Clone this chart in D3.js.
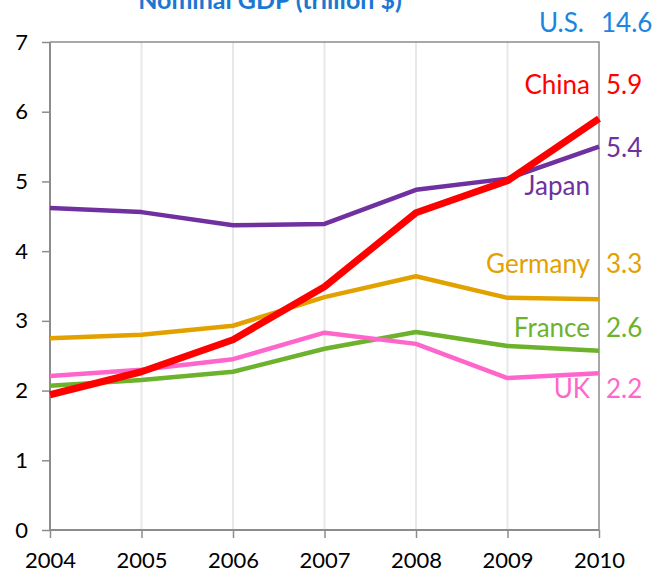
<!DOCTYPE html>
<html lang="en">
<head>
<meta charset="UTF-8">
<title>Nominal GDP</title>
<script src="https://cdn.jsdelivr.net/npm/d3@7"></script>
<style>
  html, body { margin: 0; padding: 0; background: #fff; }
  text { font-family: Lato, "Noto Sans", sans-serif; }
</style>
</head>
<body>
<script>
  // years and series (trillion $)
  var years = [2004, 2005, 2006, 2007, 2008, 2009, 2010];
  var japan = [4.62, 4.56, 4.37, 4.39, 4.88, 5.04, 5.50];
  var china = [1.94, 2.27, 2.73, 3.49, 4.55, 5.01, 5.90];
  var germany = [2.75, 2.80, 2.93, 3.34, 3.64, 3.33, 3.31];
  var france = [2.07, 2.15, 2.27, 2.60, 2.84, 2.64, 2.57];
  var uk = [2.21, 2.30, 2.45, 2.83, 2.67, 2.18, 2.25];
  var yTicks = [0, 1, 2, 3, 4, 5, 6, 7];

  var series = [
    { name: "Japan", values: japan, color: "#7030a0", width: 4.5, label: "5.4", ly: 4.93, vy: 5.48 },
    { name: "Germany", values: germany, color: "#e3a100", width: 4.5, label: "3.3", ly: 3.82, vy: 3.82 },
    { name: "France", values: france, color: "#6cb22c", width: 4.5, label: "2.6", ly: 2.9, vy: 2.9 },
    { name: "UK", values: uk, color: "#ff66cc", width: 4.5, label: "2.2", ly: 2.03, vy: 2.03 },
    { name: "China", values: china, color: "#ff0000", width: 7, label: "5.9", ly: 6.39, vy: 6.39 }
  ];

  var W = 660, H = 572;
  var m = { left: 50, right: 61, top: 42, bottom: 42 };

  var svg = d3.select("body").append("svg").attr("width", W).attr("height", H);

  var x = d3.scaleLinear().domain([2004, 2010]).range([m.left, W - m.right]);
  var y = d3.scaleLinear().domain([0, 7]).range([H - m.bottom, m.top]);

  // vertical grid
  svg.append("g").selectAll("line").data(years.slice(1, -1)).join("line")
    .attr("x1", d => x(d)).attr("x2", d => x(d))
    .attr("y1", y(0)).attr("y2", y(7))
    .attr("stroke", "#e8e8e8").attr("stroke-width", 2);

  // frame top/right
  svg.append("path")
    .attr("d", "M" + x(2004) + "," + y(7) + "H" + x(2010) + "V" + y(0))
    .attr("fill", "none").attr("stroke", "#8c8c8c").attr("stroke-width", 1.5);

  var yAxis = svg.append("g").attr("transform", "translate(" + m.left + ",0)")
    .call(d3.axisLeft(y).tickValues(yTicks).tickSize(8).tickPadding(14).tickFormat(d3.format("d")));
  var xAxis = svg.append("g").attr("transform", "translate(0," + y(0) + ")")
    .call(d3.axisBottom(x).tickValues(years).tickSize(8).tickPadding(14).tickFormat(d3.format("d")));

  [yAxis, xAxis].forEach(function (a) {
    a.select(".domain").attr("stroke", "#8c8c8c").attr("stroke-width", 2);
    a.selectAll(".tick line").attr("stroke", "#8c8c8c").attr("stroke-width", 1.5);
    a.selectAll(".tick text").attr("fill", "#000").style("font-size", "22px").style("font-family", "Lato, sans-serif");
  });
  yAxis.select(".domain").attr("d", "M0," + y(0) + "V" + y(7));
  xAxis.select(".domain").attr("d", "M" + x(2004) + ",0H" + x(2010));

  var line = d3.line().x((d, i) => x(years[i])).y(d => y(d));

  svg.append("g").selectAll("path").data(series).join("path")
    .attr("d", d => line(d.values))
    .attr("fill", "none")
    .attr("stroke", d => d.color)
    .attr("stroke-width", d => d.width)
    .attr("stroke-linejoin", "round");

  // labels
  var lab = svg.append("g").style("font-size", "26px");
  series.forEach(function (s) {
    lab.append("text").attr("x", x(2010) - 9).attr("y", y(s.ly)).attr("dy", "0.35em")
      .attr("text-anchor", "end").attr("fill", s.color).text(s.name);
    lab.append("text").attr("x", x(2010) + 7).attr("y", y(s.vy)).attr("dy", "0.35em")
      .attr("fill", s.color).text(s.label);
  });

  lab.append("text").attr("x", x(2010) - 15).attr("y", 23).attr("dy", "0.35em")
    .attr("text-anchor", "end").attr("fill", "#1a86e0").text("U.S.");
  lab.append("text").attr("x", x(2010) + 2).attr("y", 23).attr("dy", "0.35em")
    .attr("fill", "#1a86e0").text("14.6");

  // title, clipped by the top of the page
  svg.append("text").attr("x", 270).attr("y", 9)
    .attr("text-anchor", "middle").attr("fill", "#1a78d2")
    .style("font-size", "25px").style("font-weight", "bold")
    .text("Nominal GDP (trillion $)");
</script>
</body>
</html>
